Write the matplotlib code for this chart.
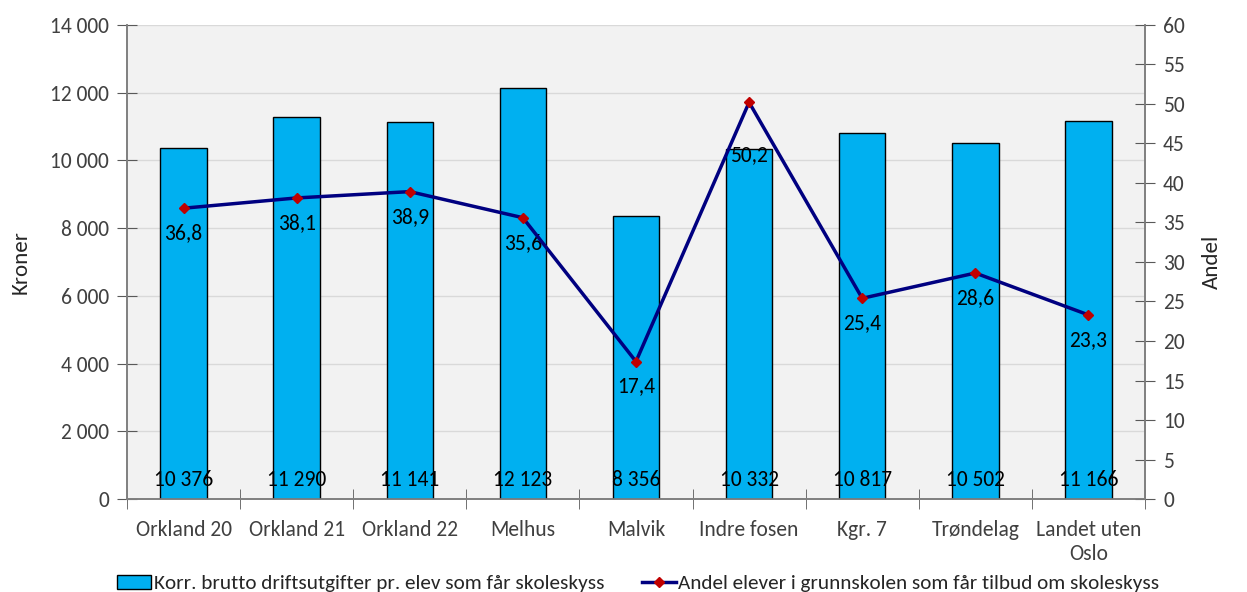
import matplotlib.pyplot as plt
import numpy as np

plt.rcParams['font.family'] = ['Carlito', 'Liberation Sans Narrow', 'DejaVu Sans']

categories = ["Orkland 20", "Orkland 21", "Orkland 22", "Melhus", "Malvik",
              "Indre fosen", "Kgr. 7", "Trøndelag", "Landet uten\nOslo"]
kroner = [10376, 11290, 11141, 12123, 8356, 10332, 10817, 10502, 11166]
andel = [36.8, 38.1, 38.9, 35.6, 17.4, 50.2, 25.4, 28.6, 23.3]

bar_label = "Korr. brutto driftsutgifter pr. elev som får skoleskyss"
line_label = "Andel elever i grunnskolen som får tilbud om skoleskyss"


def fmt_space(v):
    return f"{v:,.0f}".replace(",", " ")


fig = plt.figure(figsize=(12.47, 5.92), dpi=100)
ax = fig.add_axes([0.1018, 0.157, 0.8164, 0.801])
ax2 = ax.twinx()

x = np.arange(len(categories))
ax.set_facecolor("#F2F2F2")
ax.bar(x, kroner, width=0.41, color="#00B0F0", edgecolor="black",
       linewidth=1, label=bar_label, zorder=3)
for xi, v in zip(x, kroner):
    ax.text(xi, 560, fmt_space(v), ha="center", va="center", fontsize=15.5,
            color="black", zorder=4)

ax.set_xlim(-0.5, len(categories) - 0.5)
ax.set_ylim(0, 14000)
ax.set_yticks(np.arange(0, 14001, 2000))
ax.set_yticklabels([fmt_space(v) for v in np.arange(0, 14001, 2000)])
ax.set_xticks(x)
ax.set_xticklabels(categories, fontsize=15.5, color="#404040", linespacing=1.25)
ax.set_xticks(np.arange(-0.5, len(categories), 1), minor=True)
ax.tick_params(axis="x", which="major", length=0, pad=15)
ax.tick_params(axis="x", which="minor", length=14, direction="inout",
               color="#595959")
ax.tick_params(axis="y", length=14, direction="inout", color="#595959",
               labelsize=15.5, labelcolor="#404040", pad=6)
ax.grid(axis="y", color="#D9D9D9", linewidth=1, zorder=0)
ax.set_axisbelow(True)
ax.set_ylabel("Kroner", fontsize=16.5, color="#262626", labelpad=14)

ax2.plot(x, andel, color="#000080", linewidth=2.5, marker="D", markersize=5.5,
         markerfacecolor="#C00000", markeredgecolor="#C00000",
         label=line_label, zorder=5)
for xi, v in zip(x, andel):
    off = -38 if v > 45 else -18
    ax2.annotate(f"{v:.1f}".replace(".", ","), (xi, v), xytext=(0, off),
                 textcoords="offset points", ha="center", va="center",
                 fontsize=15.5, color="black")
ax2.set_ylim(0, 60)
ax2.set_yticks(np.arange(0, 61, 5))
ax2.tick_params(axis="y", length=14, direction="inout", color="#595959",
                labelsize=15.5, labelcolor="#404040", pad=6)
ax2.set_ylabel("Andel", fontsize=16.5, color="#262626", labelpad=12)

for a in (ax, ax2):
    a.spines["top"].set_visible(False)
    for s in ("left", "right", "bottom"):
        a.spines[s].set_color("#7F7F7F")
        a.spines[s].set_linewidth(1.2)

h1, l1 = ax.get_legend_handles_labels()
h2, l2 = ax2.get_legend_handles_labels()
fig.legend(h1 + h2, l1 + l2, loc="lower center", bbox_to_anchor=(0.512, -0.033),
           ncol=2, frameon=False, fontsize=15.3, handlelength=1.6,
           handletextpad=0.1, columnspacing=1.8, labelcolor="#262626")

fig.savefig("out.png", dpi=100)
